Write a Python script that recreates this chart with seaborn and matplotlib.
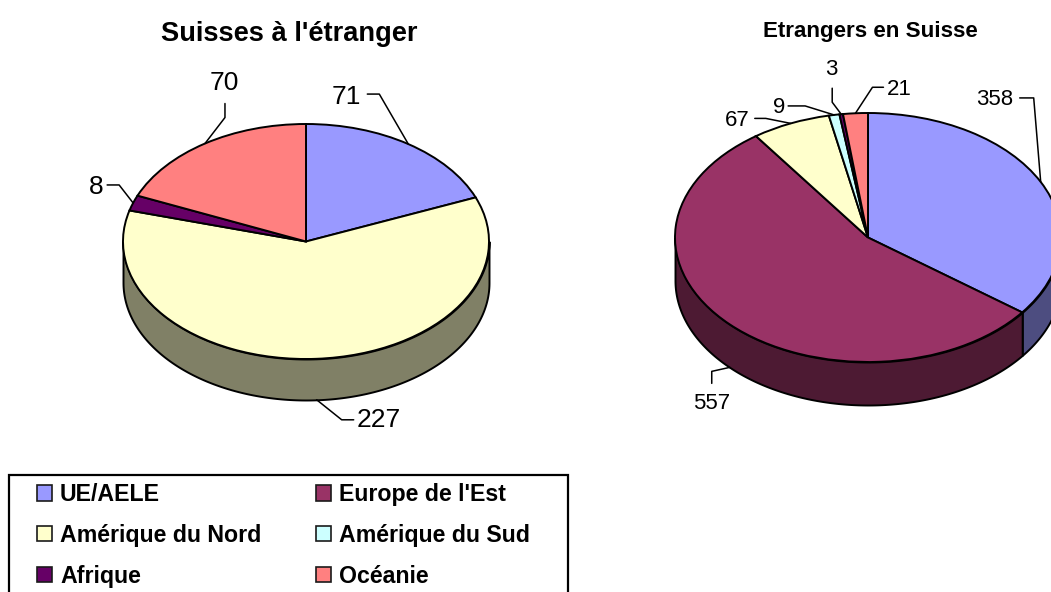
import numpy as np
import matplotlib
matplotlib.use("Agg")
import matplotlib.pyplot as plt
from matplotlib.lines import Line2D
from matplotlib.patches import Patch, Rectangle
import seaborn as sns

categories = ["UE/AELE", "Europe de l'Est", "Amérique du Nord",
              "Amérique du Sud", "Afrique", "Océanie"]
category_colors = ["#9999FF", "#993366", "#FFFFCC", "#CCFFFF", "#660066", "#FF8080"]

left_title = "Suisses à l'étranger"
left_categories = ["UE/AELE", "Amérique du Nord", "Afrique", "Océanie"]
left_values = [71, 227, 8, 70]

right_title = "Etrangers en Suisse"
right_categories = ["UE/AELE", "Europe de l'Est", "Amérique du Nord",
                    "Amérique du Sud", "Afrique", "Océanie"]
right_values = [358, 557, 67, 9, 3, 21]

sns.set_theme(style="white")
plt.rcParams["font.family"] = ["Liberation Sans", "DejaVu Sans"]

W, H = 1051, 592
fig = plt.figure(figsize=(W / 100, H / 100), dpi=100, facecolor="white")
palette = dict(zip(categories, sns.color_palette(category_colors)))
LW = 1.4


def fx(x):
    return x / W


def fy(y):
    return 1 - y / H


def label(x, y, text, ha, size, weight="normal"):
    base = y + 0.358 * size * 100 / 72
    fig.text(fx(x), fy(base), text, ha=ha, va="baseline", fontsize=size,
             fontweight=weight, color="black")


def pie3d(values, names, cx, cy, rx, ry, depth, size, layout):
    ax = fig.add_axes([fx(cx - 1.1 * rx), fy(cy + 1.6 * ry), 2.2 * rx / W, 2.7 * ry / H])
    colors = [palette[n] for n in names]
    ax.pie(values, colors=colors, startangle=90, counterclock=False, radius=1,
           wedgeprops=dict(edgecolor="black", linewidth=LW, zorder=3))
    ax.set_aspect("auto")
    ax.set_xlim(-1.1, 1.1)
    ax.set_ylim(-1.6, 1.1)
    ax.axis("off")
    edges = np.cumsum([0] + list(values)) / sum(values) * 2 * np.pi
    d = depth / ry
    for a0, a1, c in zip(edges[:-1], edges[1:], colors):
        lo, hi = max(a0, np.pi / 2), min(a1, 3 * np.pi / 2)
        if hi > lo:
            t = np.linspace(lo, hi, 200)
            ax.fill_between(np.sin(t), np.cos(t), np.cos(t) - d,
                            color=tuple(v * 0.5 for v in c), edgecolor="black",
                            linewidth=LW, zorder=1, clip_on=False)
    for a0, a1, v, (dx1, dy1, dx2, dy2, tx, ty, ha) in zip(edges[:-1], edges[1:], values, layout):
        m = (a0 + a1) / 2
        front = np.pi / 2 < m < 3 * np.pi / 2
        px = cx + rx * np.sin(m)
        py = cy - ry * np.cos(m) + (depth if front else 0)
        xs = [px, px + dx1, px + dx2]
        ys = [py, py + dy1, py + dy2]
        fig.add_artist(Line2D([fx(x) for x in xs], [fy(y) for y in ys],
                              transform=fig.transFigure, color="black", lw=1.1))
        label(px + tx, py + ty, str(v), ha, size)


pie3d(left_values, left_categories, 306, 241.5, 183, 117.5, 41, 19,
      [(-29, -50, -41, -50, -47, -50, "right"),
       (25, 20, 37, 20, 40, 18, "left"),
       (-14, -18, -26, -18, -30, -18, "right"),
       (20, -26, 20, -40, 19, -63, "center")])

pie3d(right_values, right_categories, 868, 237.5, 193, 124.5, 43, 16,
      [(-7, -84, -21, -84, -27, -85, "right"),
       (-18, 4, -18, 16, -18, 34, "center"),
       (-25, -5, -36, -5, -41, -5, "right"),
       (-29, -9, -46, -9, -49, -10, "right"),
       (-9, -12, -9, -26, -10, -47, "center"),
       (17, -26, 28, -26, 31, -26, "left")])

label(289, 31, left_title, "center", 19.6, "bold")
label(870, 29, right_title, "center", 16.1, "bold")

fig.add_artist(Rectangle((fx(9), fy(640)), 559 / W, 165 / H, transform=fig.transFigure,
                         fill=False, edgecolor="black", linewidth=1.6, clip_on=False))
FS = 16.7
fpx = FS * 100 / 72
handles = [Patch(facecolor=palette[n], edgecolor="#1a1a1a", linewidth=1.2, label=n)
           for n in categories]
order = handles[::2] + handles[1::2]
fig.legend(handles=order, loc="upper left", bbox_to_anchor=(fx(37), fy(483)),
           bbox_transform=fig.transFigure, ncol=2, frameon=False, borderpad=0,
           borderaxespad=0, handlelength=15 / fpx, handleheight=15 / fpx,
           handletextpad=8 / fpx, columnspacing=55 / fpx, labelspacing=(41 - fpx) / fpx,
           prop=dict(size=FS, weight="bold", family="Liberation Sans"), labelcolor="black")

fig.savefig("out.png", dpi=100, facecolor="white")
